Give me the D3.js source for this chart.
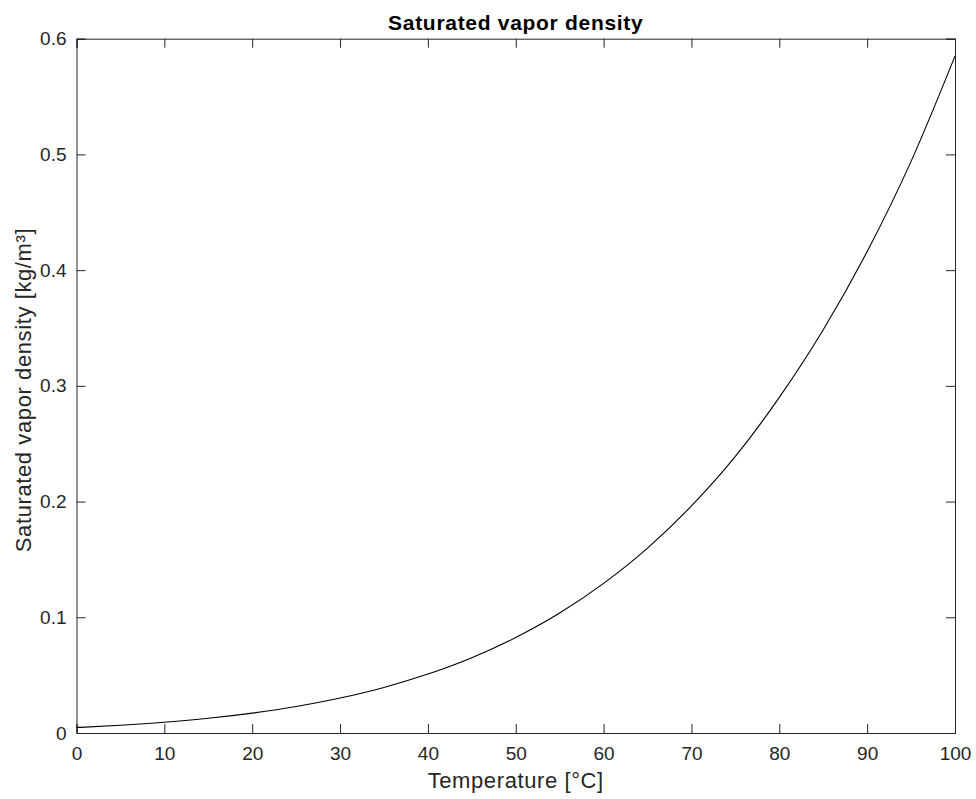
<!DOCTYPE html>
<html>
<head>
<meta charset="utf-8">
<script src="https://cdn.jsdelivr.net/npm/d3@7"></script>
<style>
body { margin: 0; background: #fff; }
svg text { font-family: "Liberation Sans", Arial, Helvetica, sans-serif; fill: #262626; }
</style>
</head>
<body>
<div id="chart"></div>
<script>
(function(){

var width = 976,
	height = 799,
	margin = {left: 76.5, right: 21, top: 38.7, bottom: 66};

// data, kg/m3 at every 5 degC
var temps = [0,5,10,15,20,25,30,35,40,45,50,55,60,65,70,75,80,85,90,95,100];
var density = [0.0047,0.0067,0.0093,0.0127,0.0172,0.0229,0.0302,0.0394,0.0509,0.0651,0.0826,0.1037,0.1293,0.1598,0.1962,0.2390,0.2900,0.3485,0.4160,0.4940,0.5850];

var xticks = [0,10,20,30,40,50,60,70,80,90,100];
var yticks = [0,0.1,0.2,0.3,0.4,0.5,0.6];

var axiscolor = "#262626",
	ticklen = 9;

var svg = d3.select("#chart").append("svg")
	.attr("width",width)
	.attr("height",height);

svg.append("rect").attr("width",width).attr("height",height).style("fill","#fff");

var X = d3.scaleLinear().domain([0,100]).range([margin.left, width - margin.right]);
var Y = d3.scaleLinear().domain([0,0.6]).range([height - margin.bottom, margin.top]);

var x0 = X.range()[0], x1 = X.range()[1], y0 = Y.range()[0], y1 = Y.range()[1];

// axes: bottom/left with labels, top/right only ticks (inward)
svg.append("g")
	.attr("transform","translate(0,"+y0+")")
	.call(d3.axisBottom(X).tickValues(xticks).tickSize(-ticklen).tickPadding(14).tickFormat(d3.format("d")))
	.call(style);

svg.append("g")
	.attr("transform","translate(0,"+y1+")")
	.call(d3.axisTop(X).tickValues(xticks).tickSize(-ticklen).tickFormat(""))
	.call(style);

svg.append("g")
	.attr("transform","translate("+x0+",0)")
	.call(d3.axisLeft(Y).tickValues(yticks).tickSize(-ticklen).tickPadding(10).tickFormat(function(d){ return d === 0 ? "0" : d3.format(".1f")(d); }))
	.call(style);

svg.append("g")
	.attr("transform","translate("+x1+",0)")
	.call(d3.axisRight(Y).tickValues(yticks).tickSize(-ticklen).tickFormat(""))
	.call(style);

function style(g){
	g.select(".domain").attr("stroke",axiscolor).attr("stroke-width",1);
	g.selectAll(".tick line").attr("stroke",axiscolor).attr("stroke-width",1);
	g.selectAll(".tick text").style("font-size","19px").attr("fill",axiscolor);
}

// the curve
var line = d3.line()
	.x(function(d,i){ return X(temps[i]); })
	.y(function(d){ return Y(d); })
	.curve(d3.curveMonotoneX);

svg.append("path")
	.datum(density)
	.attr("d",line)
	.style("fill","none")
	.style("stroke","#000")
	.style("stroke-width",1.1);

// labels
svg.append("text")
	.attr("x",(x0+x1)/2)
	.attr("y",30)
	.attr("text-anchor","middle")
	.style("font-size","21px")
	.style("letter-spacing","0.7px")
	.style("font-weight","bold")
	.style("fill","#000")
	.text("Saturated vapor density");

svg.append("text")
	.attr("x",(x0+x1)/2)
	.attr("y",788)
	.attr("text-anchor","middle")
	.style("font-size","22px")
	.style("letter-spacing","0.6px")
	.text("Temperature [°C]");

svg.append("text")
	.attr("transform","translate(31,390) rotate(-90)")
	.attr("text-anchor","middle")
	.style("font-size","22px")
	.style("letter-spacing","0.6px")
	.text("Saturated vapor density [kg/m³]");

})()
</script>
</body>
</html>
